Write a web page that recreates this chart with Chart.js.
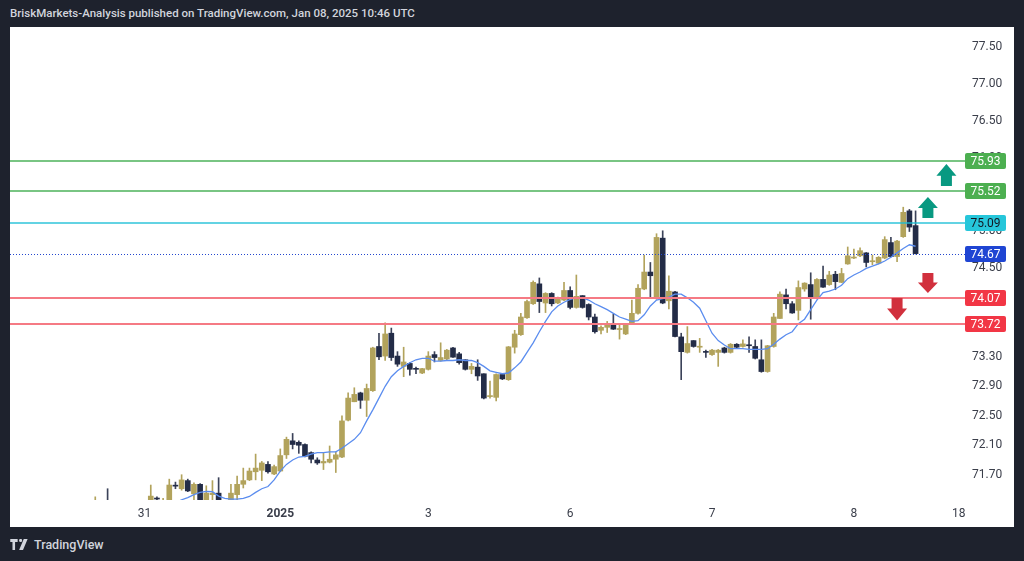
<!DOCTYPE html>
<html>
<head>
<meta charset="utf-8">
<script src="https://cdn.jsdelivr.net/npm/chart.js@4.4.1/dist/chart.umd.min.js"></script>
<style>
  html, body { margin: 0; padding: 0; width: 1024px; height: 561px; overflow: hidden; background: #1e222d; font-family: Roboto, "Liberation Sans", sans-serif; }
  #header { position: absolute; left: 10px; top: 6px; color: #d1d4dc; font-size: 11.5px; font-weight: 500; white-space: nowrap; }
  #panel { position: absolute; left: 10px; top: 27px; width: 1004px; height: 500px; background: #fff; }
  #footer { position: absolute; left: 10px; top: 537px; display: flex; align-items: center; color: #d1d4dc; font-size: 12.5px; font-weight: 500; }
  #footer svg { margin-right: 5px; }
</style>
</head>
<body>
<div id="header">BriskMarkets-Analysis published on TradingView.com, Jan 08, 2025 10:46 UTC</div>
<div id="panel"><canvas id="grafico" width="1004" height="500"></canvas></div>
<div id="footer">
  <svg width="19" height="12" viewBox="0 0 20 13"><path d="M0 0h8v3.2H5.2V12H2.4V3.2H0z M9.5 1.6a1.7 1.7 0 1 0 3.4 0a1.7 1.7 0 1 0 -3.4 0z M14.6 0h4.2l-5 12H9.6z" fill="#d1d4dc"/></svg>
  <span>TradingView</span>
</div>
<script>
// Velas horarias (primer valor = vela en la ranura firstSlot)
const slotCount = 155;
const firstSlot = 13;

const opens = [
  71.22, null, 71.30, null, null, null, null, null, null,
  71.25, 71.35, 71.30, 71.30, 71.52, 71.48, 71.59, 71.41, 71.54, 71.30,
  71.40, 71.42, null, 71.30, 71.40, 71.54, 71.60, 71.71, 71.73, 71.81,
  71.68, 71.72, 71.94, 72.13, 72.11, 72.08, 71.97, 71.87, 71.83, 71.84,
  71.88, 71.91, 72.41, 72.66, 72.78, 72.68, 72.81, 73.41, 73.28, 73.59,
  73.28, 73.14, 73.18, 73.11, 73.05, 73.10, 73.30, 73.22, 73.24, 73.39,
  73.31, 73.23, 73.10, 73.13, 73.04, 72.73, 72.72, 73.03, 72.96, 73.40,
  73.57, 73.80, 73.99, 74.26, 74.00, 74.13, 74.00, 74.04, 74.17, 73.94,
  74.10, 73.98, 73.81, 73.63, 73.67, 73.72, 73.64, 73.58, 73.71, 73.86,
  74.19, 74.42, 74.06, 74.88, 74.03, 74.15, 73.54, 73.33, 73.49, 73.40,
  73.335, 73.30, 73.33, 73.39, 73.33, 73.44, 73.41, 73.43, 73.41, 73.23,
  73.07, 73.41, 73.79, 74.11, 73.99, 73.90, 74.19, 74.25, 74.06, 74.32,
  74.25, 74.39, 74.28, 74.53, 74.61, 74.64, 74.68, 74.56, 74.54, 74.61,
  74.82, 74.63, 74.90, 75.25, 75.05
];
const highs = [
  71.37, null, 71.48, null, null, null, null, null, null,
  71.53, 71.37, 71.35, 71.61, 71.57, 71.67, 71.61, 71.56, 71.55, 71.52,
  71.59, 71.63, null, 71.54, 71.65, 71.76, 71.76, 71.95, 71.85, 71.85,
  71.80, 72.02, 72.18, 72.23, 72.13, 72.09, 71.98, 71.90, 71.97, 72.06,
  71.98, 72.47, 72.78, 72.85, 72.79, 72.90, 73.40, 73.59, 73.73, 73.66,
  73.34, 73.40, 73.19, 73.13, 73.115, 73.34, 73.34, 73.46, 73.37, 73.40,
  73.33, 73.23, 73.18, 73.23, 73.04, 72.94, 73.04, 73.04, 73.41, 73.63,
  73.86, 74.04, 74.30, 74.34, 74.14, 74.14, 74.08, 74.28, 74.22, 74.38,
  74.10, 73.99, 73.85, 73.69, 73.75, 73.85, 73.72, 73.72, 74.04, 74.25,
  74.65, 74.55, 74.94, 74.98, 74.37, 74.16, 73.59, 73.68, 73.49, 73.52,
  73.36, 73.37, 73.37, 73.40, 73.45, 73.45, 73.50, 73.54, 73.50, 73.50,
  73.425, 73.86, 74.15, 74.19, 74.02, 74.30, 74.275, 74.41, 74.33, 74.50,
  74.43, 74.43, 74.47, 74.76, 74.73, 74.75, 74.685, 74.65, 74.63, 74.90,
  74.89, 74.85, 75.30, 75.27, 75.25
];
const lows = [
  71.15, null, 71.18, null, null, null, null, null, null,
  71.20, 71.30, 71.25, 71.28, 71.48, 71.46, 71.44, 71.33, 71.28, 71.28,
  71.30, 71.28, null, 71.28, 71.33, 71.49, 71.59, 71.60, 71.59, 71.69,
  71.67, 71.71, 71.89, 72.02, 71.96, 71.91, 71.83, 71.81, 71.74, 71.83,
  71.70, 71.90, 72.40, 72.66, 72.57, 72.46, 72.80, 73.23, 73.22, 73.22,
  73.14, 73.00, 73.02, 73.04, 73.04, 73.09, 73.20, 73.21, 73.23, 73.26,
  73.17, 73.09, 73.04, 72.95, 72.70, 72.71, 72.67, 72.96, 72.95, 73.32,
  73.56, 73.79, 73.98, 73.87, 73.87, 73.96, 73.99, 74.03, 73.92, 73.93,
  73.93, 73.77, 73.59, 73.58, 73.60, 73.64, 73.51, 73.57, 73.71, 73.85,
  74.18, 74.06, 74.05, 73.99, 73.92, 73.54, 72.96, 73.32, 73.40, 73.33,
  73.26, 73.29, 73.14, 73.32, 73.32, 73.39, 73.40, 73.33, 73.24, 73.06,
  73.06, 73.40, 73.79, 73.92, 73.86, 73.77, 74.16, 73.78, 74.055, 74.21,
  74.24, 74.18, 74.275, 74.525, 74.60, 74.63, 74.49, 74.52, 74.53, 74.60,
  74.625, 74.56, 74.89, 74.97, 74.665
];
const closes = [
  71.26, null, 71.22, null, null, null, null, null, null,
  71.38, 71.34, 71.32, 71.53, 71.515, 71.60, 71.45, 71.54, 71.30, 71.42,
  71.42, 71.30, null, 71.42, 71.54, 71.59, 71.72, 71.76, 71.83, 71.71,
  71.78, 71.93, 72.15, 72.08, 72.07, 71.92, 71.88, 71.83, 71.85, 71.88,
  71.94, 72.40, 72.71, 72.76, 72.68, 72.84, 73.39, 73.27, 73.58, 73.26,
  73.17, 73.20, 73.10, 73.10, 73.11, 73.28, 73.26, 73.26, 73.36, 73.265,
  73.19, 73.10, 73.14, 73.01, 72.71, 72.74, 73.03, 72.97, 73.405, 73.58,
  73.81, 74.02, 74.28, 74.02, 74.13, 73.99, 74.06, 74.17, 73.94, 74.09,
  73.94, 73.81, 73.61, 73.67, 73.72, 73.645, 73.65, 73.71, 73.86, 74.20,
  74.42, 74.37, 74.89, 74.00, 74.16, 73.545, 73.34, 73.45, 73.41, 73.405,
  73.33, 73.36, 73.36, 73.33, 73.44, 73.40, 73.445, 73.42, 73.25, 73.07,
  73.42, 73.81, 74.12, 73.99, 73.865, 74.21, 74.27, 74.06, 74.32, 74.215,
  74.38, 74.29, 74.40, 74.64, 74.62, 74.71, 74.55, 74.565, 74.62, 74.86,
  74.63, 74.84, 75.23, 75.03, 74.67
];
// Media móvil (línea azul)
const movingAvg = [
  null, null, null, null, null, null, null, null, null,
  null, null, null, null, 71.29, 71.33, 71.36, 71.40, 71.43, 71.445,
  71.44, 71.38, 71.35, 71.34, 71.34, 71.35, 71.375, 71.43, 71.48, 71.51,
  71.60, 71.72, 71.81, 71.87, 71.91, 71.92, 71.95, 71.97, 71.97, 71.98,
  71.98, 72.03, 72.09, 72.15, 72.24, 72.40, 72.55, 72.71, 72.87, 73.00,
  73.08, 73.14, 73.19, 73.23, 73.25, 73.25, 73.21, 73.21, 73.22, 73.22,
  73.23, 73.22, 73.22, 73.19, 73.14, 73.08, 73.06, 73.04, 73.05, 73.12,
  73.20, 73.33, 73.46, 73.61, 73.75, 73.88, 73.96, 74.01, 74.05, 74.07,
  74.07, 74.04, 73.99, 73.95, 73.91, 73.86, 73.81, 73.78, 73.75, 73.76,
  73.84, 73.96, 74.04, 74.06, 74.08, 74.12, 74.12, 74.07, 74.01, 73.93,
  73.76, 73.59, 73.49, 73.43, 73.38, 73.38, 73.38, 73.37, 73.37, 73.37,
  73.38, 73.44, 73.51, 73.57, 73.61, 73.72, 73.78, 73.91, 74.04, 74.14,
  74.16, 74.19, 74.24, 74.33, 74.38, 74.42, 74.47, 74.50, 74.53, 74.57,
  74.62, 74.68, 74.74, 74.79, 74.77
];

// Ejes
const xTickSlots = [21, 43, 67, 90, 113, 136, 153];
const xTickLabels = ['31', '2025', '3', '6', '7', '8', '18'];
const yTickValues = [71.70, 72.10, 72.50, 72.90, 73.30, 73.70, 74.10, 74.50, 75.00, 75.50, 76.00, 76.50, 77.00, 77.50];
const yMin = 71.327, yMax = 77.745;

// Niveles dibujados
const levelValues = [75.93, 75.52, 75.09, 74.67, 74.07, 73.72];
const levelKinds = ['green', 'green', 'cyan', 'last', 'red', 'red'];

// Flechas: ranura, precio de la cola, precio de la punta
const arrowSlots = [151, 148, 148, 143];
const arrowTail = [75.588, 75.154, 74.407, 74.068];
const arrowTip = [75.886, 75.439, 74.136, 73.763];

const estilos = {
  green: { line: 'rgba(56,168,72,0.9)', width: 1.5, dash: [], bg: '#4caf50', fg: '#ffffff' },
  cyan: { line: 'rgba(24,190,214,0.9)', width: 1.5, dash: [], bg: '#26c6da', fg: '#131722' },
  last: { line: '#2447cf', width: 1, dash: [1, 2], bg: '#1f45d3', fg: '#ffffff' },
  red: { line: '#f57a84', width: 2, dash: [], bg: '#f23645', fg: '#ffffff' }
};
const gold = '#b2a35c', dark = '#232c47', darkWick = '#3b4259';

function place(arr) {
  const out = new Array(slotCount).fill(null);
  arr.forEach((v, i) => { out[firstSlot + i] = v; });
  return out;
}
const slotLabels = Array.from({ length: slotCount }, (_, i) => 'h' + i);
const bodyData = place(opens.map((o, i) => o === null ? null : [o, closes[i]]));
const wickData = place(lows.map((l, i) => l === null ? null : [l, highs[i]]));
const upData = place(opens.map((o, i) => o !== null && closes[i] >= o));
const bodyColors = upData.map(u => u ? gold : dark);
const wickColors = upData.map(u => u ? gold : darkWick);

const capaDibujos = {
  id: 'capaDibujos',
  afterDatasetsDraw(chart) {
    const { ctx, chartArea: a, scales: { x, y } } = chart;
    ctx.save();
    levelValues.forEach((v, i) => {
      const e = estilos[levelKinds[i]];
      const py = Math.round(y.getPixelForValue(v)) + (e.width === 1 ? 0.5 : 0);
      ctx.strokeStyle = e.line;
      ctx.lineWidth = e.width;
      ctx.setLineDash(e.dash);
      ctx.beginPath();
      ctx.moveTo(0, py);
      ctx.lineTo(a.right, py);
      ctx.stroke();
    });
    ctx.setLineDash([]);
    arrowSlots.forEach((s, i) => {
      const cx = x.getPixelForValue(s);
      const tail = y.getPixelForValue(arrowTail[i]);
      const tip = y.getPixelForValue(arrowTip[i]);
      const head = tail + (tip - tail) * 0.47;
      ctx.fillStyle = arrowTip[i] > arrowTail[i] ? '#089981' : '#d1303d';
      ctx.beginPath();
      ctx.moveTo(cx, tip);
      ctx.lineTo(cx + 10, head);
      ctx.lineTo(cx + 5.5, head);
      ctx.lineTo(cx + 5.5, tail);
      ctx.lineTo(cx - 5.5, tail);
      ctx.lineTo(cx - 5.5, head);
      ctx.lineTo(cx - 10, head);
      ctx.closePath();
      ctx.fill();
    });
    ctx.restore();
  },
  afterDraw(chart) {
    const { ctx, chartArea: a, scales: { y } } = chart;
    ctx.save();
    levelValues.forEach((v, i) => {
      const e = estilos[levelKinds[i]];
      const py = Math.round(y.getPixelForValue(v));
      ctx.fillStyle = e.bg;
      ctx.beginPath();
      ctx.roundRect(a.right - 3, py - 8, 41, 16, 2);
      ctx.fill();
      ctx.fillStyle = e.fg;
      ctx.font = '12px Roboto';
      ctx.textAlign = 'center';
      ctx.textBaseline = 'middle';
      ctx.fillText(v.toFixed(2), a.right + 17.5, py + 1);
    });
    ctx.restore();
  }
};

const ctxGrafico = document.getElementById('grafico').getContext('2d');
new Chart(ctxGrafico, {
  type: 'bar',
  data: {
    labels: slotLabels,
    datasets: [
      {
        type: 'line',
        label: 'Media',
        data: place(movingAvg),
        borderColor: '#5b8def',
        borderWidth: 1.3,
        pointRadius: 0,
        tension: 0,
        spanGaps: false,
        clip: 0,
        order: 0
      },
      {
        label: 'Cuerpos',
        data: bodyData,
        backgroundColor: bodyColors,
        barThickness: 5,
        minBarLength: 1,
        grouped: false,
        clip: 0,
        order: 1
      },
      {
        label: 'Mechas',
        data: wickData,
        backgroundColor: wickColors,
        barThickness: 1,
        grouped: false,
        clip: 0,
        order: 2
      }
    ]
  },
  options: {
    responsive: false,
    animation: false,
    events: [],
    layout: { padding: { left: 2, top: 0, right: 0, bottom: 0 } },
    plugins: {
      legend: { display: false },
      tooltip: { enabled: false }
    },
    scales: {
      x: {
        type: 'category',
        offset: true,
        grid: { display: false, drawTicks: false },
        border: { display: false },
        ticks: {
          autoSkip: false,
          maxRotation: 0,
          padding: 7,
          color: '#3a3e4a',
          font: c => ({ family: 'Roboto', size: 12, weight: (c.tick && c.tick.label === '2025') ? 'bold' : 'normal' }),
          callback: function (value, index) {
            const k = xTickSlots.indexOf(index);
            return k >= 0 ? xTickLabels[k] : null;
          }
        },
        afterFit: function (scale) {
          scale.height = 27;
          scale.paddingLeft = 0;
          scale.paddingRight = 0;
        }
      },
      y: {
        type: 'linear',
        position: 'right',
        min: yMin,
        max: yMax,
        grid: { display: false, drawTicks: false },
        border: { display: false },
        ticks: {
          padding: 4,
          labelOffset: 2,
          color: '#3a3e4a',
          font: { family: 'Roboto', size: 12 },
          callback: function (value) { return value.toFixed(2); }
        },
        afterBuildTicks: function (scale) {
          scale.ticks = yTickValues.map(v => ({ value: v }));
        },
        afterFit: function (scale) {
          scale.width = 46;
          scale.paddingTop = 0;
          scale.paddingBottom = 0;
        }
      }
    }
  },
  plugins: [capaDibujos]
});
</script>
</body>
</html>
